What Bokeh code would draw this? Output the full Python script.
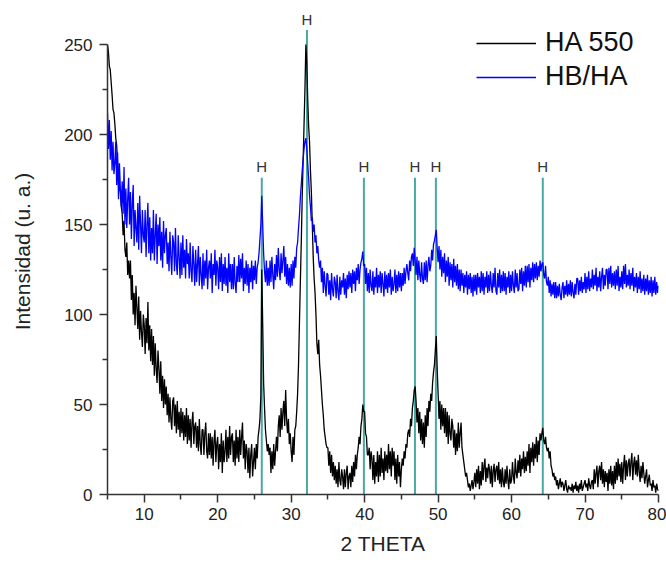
from bokeh.plotting import figure
from bokeh.models import Range1d, Legend, LegendItem, FixedTicker
from bokeh.embed import file_html
from bokeh.resources import INLINE
from bokeh.core.properties import value

# sampling of the scan (2 theta, degrees)
scan_start = 5.0
scan_step = 0.125

# HA 550 intensities: eight readings per degree (one row per degree, 5 .. 79), then 80
ha550 = [
    250, 246, 238, 236, 229, 222, 214, 212,
    206, 198, 194, 184, 178, 170, 168, 160,
    156, 144, 152, 136, 132, 140, 122, 130,
    120, 130, 108, 122, 100, 112, 94, 116,
    104, 92, 110, 86, 102, 90, 82, 100,
    94, 78, 98, 84, 107, 80, 94, 74,
    92, 72, 88, 66, 84, 70, 62, 80,
    70, 56, 74, 52, 66, 48, 64, 50,
    60, 44, 56, 40, 54, 42, 36, 52,
    54, 38, 50, 34, 52, 36, 46, 32,
    48, 34, 46, 30, 44, 32, 48, 28,
    44, 30, 42, 26, 40, 46, 28, 38,
    40, 26, 38, 24, 42, 28, 22, 36,
    36, 22, 34, 40, 24, 20, 34, 22,
    34, 20, 32, 16, 30, 36, 18, 28,
    32, 14, 28, 18, 34, 12, 30, 18,
    24, 36, 18, 32, 20, 38, 22, 32,
    34, 18, 30, 16, 36, 20, 32, 18,
    36, 22, 32, 40, 20, 30, 14, 28,
    24, 12, 26, 9, 22, 28, 10, 18,
    26, 14, 28, 20, 32, 36, 42, 55,
    125, 95, 62, 48, 36, 30, 24, 28,
    22, 26, 12, 24, 14, 28, 16, 24,
    32, 24, 38, 44, 32, 48, 36, 46,
    52, 38, 58, 42, 34, 42, 28, 34,
    24, 18, 32, 22, 36, 38, 46, 56,
    72, 95, 118, 140, 165, 185, 205, 225,
    250, 240, 220, 205, 196, 180, 168, 150,
    132, 120, 112, 100, 84, 78, 86, 72,
    66, 58, 50, 44, 36, 32, 28, 26,
    26, 16, 24, 12, 22, 10, 18, 8,
    16, 6, 14, 4, 18, 8, 5, 14,
    10, 3, 14, 4, 12, 16, 3, 10,
    12, 4, 16, 7, 18, 10, 22, 14,
    22, 26, 32, 28, 38, 42, 50, 46,
    46, 34, 32, 22, 22, 26, 14, 24,
    20, 8, 22, 6, 18, 10, 24, 7,
    22, 10, 26, 12, 20, 8, 24, 13,
    22, 12, 28, 14, 24, 10, 26, 16,
    24, 8, 20, 6, 22, 10, 18, 4,
    14, 20, 16, 24, 20, 28, 26, 34,
    36, 32, 42, 38, 48, 52, 58, 60,
    52, 40, 48, 34, 46, 30, 42, 28,
    40, 26, 44, 32, 48, 38, 52, 46,
    56, 52, 62, 68, 72, 80, 88, 70,
    56, 42, 52, 36, 50, 38, 48, 34,
    48, 32, 46, 28, 44, 34, 30, 42,
    38, 26, 36, 22, 34, 24, 40, 26,
    34, 40, 26, 22, 18, 14, 10, 12,
    8, 4, 6, 2, 5, 8, 3, 7,
    12, 4, 14, 6, 16, 3, 13, 5,
    18, 8, 16, 20, 7, 15, 9, 17,
    14, 6, 16, 4, 13, 17, 7, 14,
    16, 8, 18, 6, 14, 4, 15, 7,
    4, 14, 6, 16, 8, 3, 14, 6,
    8, 18, 10, 6, 20, 12, 9, 19,
    12, 22, 10, 20, 14, 24, 12, 21,
    13, 24, 16, 28, 12, 26, 18, 29,
    16, 28, 20, 32, 18, 30, 22, 34,
    30, 34, 37, 30, 28, 32, 26, 24,
    26, 20, 24, 16, 14, 10, 12, 8,
    10, 5, 8, 3, 6, 9, 4, 7,
    6, 2, 5, 8, 3, 1, 5, 3,
    4, 2, 6, 1, 5, 3, 7, 2,
    5, 1, 6, 3, 8, 2, 4, 6,
    8, 4, 6, 2, 9, 5, 3, 7,
    8, 3, 14, 6, 12, 16, 4, 13,
    16, 8, 18, 6, 14, 4, 13, 7,
    12, 2, 14, 6, 16, 5, 13, 3,
    16, 6, 18, 8, 20, 10, 17, 7,
    18, 6, 16, 22, 8, 19, 10, 17,
    20, 10, 18, 23, 8, 17, 21, 11,
    19, 10, 22, 13, 7, 16, 9, 18,
    12, 6, 10, 14, 4, 8, 11, 5,
    6, 2, 8, 4, 5, 1, 6, 3,
    2,
]

# HB/HA intensities, same sampling
hbha = [
    212, 192, 208, 186, 202, 180, 196, 178,
    184, 196, 172, 190, 164, 184, 170, 160,
    174, 156, 182, 150, 170, 148, 164, 176,
    150, 168, 142, 162, 172, 138, 158, 148,
    140, 162, 136, 166, 150, 134, 158, 144,
    140, 158, 132, 150, 162, 134, 154, 130,
    148, 134, 158, 130, 144, 156, 128, 150,
    138, 154, 130, 146, 126, 152, 134, 144,
    148, 128, 140, 124, 146, 132, 122, 144,
    140, 124, 148, 128, 122, 144, 132, 120,
    140, 122, 144, 126, 136, 120, 142, 128,
    134, 120, 140, 124, 118, 138, 128, 116,
    136, 118, 128, 138, 116, 132, 122, 114,
    134, 116, 130, 120, 136, 114, 126, 130,
    120, 134, 112, 128, 122, 136, 116, 130,
    126, 114, 132, 118, 134, 113, 128, 117,
    132, 116, 126, 112, 134, 118, 128, 114,
    128, 114, 132, 117, 112, 127, 118, 133,
    118, 131, 120, 134, 113, 126, 117, 130,
    116, 128, 112, 126, 118, 130, 114, 127,
    119, 130, 117, 126, 129, 134, 142, 150,
    166, 150, 134, 124, 118, 130, 116, 126,
    116, 130, 118, 132, 122, 114, 128, 119,
    133, 121, 137, 125, 119, 134, 123, 130,
    138, 121, 132, 117, 128, 116, 126, 115,
    128, 116, 130, 120, 132, 126, 137, 140,
    148, 155, 165, 172, 180, 186, 192, 196,
    198, 192, 184, 176, 166, 160, 152, 154,
    146, 150, 140, 144, 134, 138, 130, 126,
    130, 118, 126, 112, 124, 116, 110, 123,
    122, 111, 119, 108, 123, 114, 110, 121,
    118, 109, 122, 113, 108, 121, 111, 119,
    115, 123, 111, 120, 109, 122, 114, 124,
    115, 123, 112, 125, 117, 124, 113, 126,
    119, 128, 117, 125, 129, 131, 135, 127,
    128, 117, 126, 113, 123, 112, 125, 116,
    113, 124, 111, 121, 115, 126, 112, 122,
    115, 124, 112, 123, 117, 110, 124, 114,
    122, 112, 123, 115, 125, 111, 121, 113,
    117, 125, 112, 122, 113, 124, 115, 123,
    113, 123, 116, 126, 117, 124, 128, 123,
    119, 130, 124, 132, 134, 127, 137, 130,
    122, 132, 119, 130, 122, 118, 129, 120,
    117, 129, 119, 130, 118, 127, 132, 124,
    127, 136, 130, 139, 141, 144, 147, 137,
    129, 138, 125, 136, 121, 132, 123, 134,
    118, 130, 121, 132, 116, 129, 119, 128,
    115, 131, 118, 127, 116, 128, 114, 125,
    113, 125, 116, 123, 112, 122, 115, 124,
    111, 122, 114, 123, 112, 121, 110, 122,
    113, 122, 111, 123, 115, 121, 112, 124,
    113, 123, 111, 121, 115, 124, 112, 122,
    113, 124, 116, 112, 123, 115, 126, 113,
    111, 123, 115, 125, 112, 122, 113, 124,
    113, 123, 111, 121, 115, 124, 112, 122,
    113, 124, 116, 112, 125, 115, 123, 113,
    114, 125, 117, 126, 113, 124, 116, 127,
    115, 127, 118, 128, 115, 126, 119, 129,
    118, 128, 120, 129, 119, 127, 121, 130,
    124, 128, 129, 122, 120, 127, 118, 116,
    121, 112, 119, 110, 117, 111, 118, 109,
    118, 109, 116, 110, 117, 111, 108, 115,
    118, 109, 116, 111, 119, 110, 117, 111,
    119, 110, 118, 112, 109, 117, 111, 120,
    120, 111, 119, 113, 121, 112, 118, 114,
    123, 112, 121, 114, 124, 113, 120, 115,
    125, 114, 122, 116, 126, 113, 121, 115,
    124, 113, 121, 126, 114, 122, 116, 125,
    125, 114, 126, 117, 127, 115, 123, 116,
    124, 114, 125, 116, 127, 113, 121, 115,
    124, 114, 127, 117, 128, 115, 122, 116,
    125, 114, 123, 116, 126, 113, 121, 115,
    123, 112, 121, 114, 124, 112, 120, 113,
    122, 111, 120, 113, 122, 111, 119, 112,
    121, 110, 119, 112, 121, 111, 118, 112,
    116,
]

two_theta = [scan_start + scan_step * i for i in range(len(ha550))]

# hydroxyapatite reference reflections
peak_positions = [26.0, 32.15, 39.9, 46.85, 49.7, 64.25]
peak_tops = [176, 258, 176, 176, 176, 176]
peak_labels = ["H", "H", "H", "H", "H", "H"]

x_ticks = [10, 20, 30, 40, 50, 60, 70, 80]
x_minor = [5, 15, 25, 35, 45, 55, 65, 75]
y_ticks = [0, 50, 100, 150, 200, 250]
y_minor = [25, 75, 125, 175, 225]

FONT = "Liberation Sans"
TEAL = "#48a9a4"

p = figure(width=666, height=562, x_range=Range1d(5, 80), y_range=Range1d(0, 270),
           output_backend="svg", toolbar_location=None,
           min_border_left=107, min_border_right=8, min_border_top=8, min_border_bottom=68)
p.grid.visible = False
p.outline_line_color = None
p.background_fill_color = "white"

p.segment(x0=peak_positions, y0=[0] * len(peak_positions), x1=peak_positions, y1=peak_tops,
          line_color=TEAL, line_width=2)
label_y = [t + 6 for t in peak_tops]
p.text(x=peak_positions, y=label_y, text=peak_labels, text_align="center",
       text_baseline="alphabetic", text_font=value(FONT), text_font_size="15px",
       text_color="#333333")

r_black = p.line(two_theta, ha550, line_color="#000000", line_width=1.3)
r_blue = p.line(two_theta, hbha, line_color="#0000ff", line_width=1.3)

for ax, ticks, minor, bounds in ((p.xaxis[0], x_ticks, x_minor, (5, 80)),
                                 (p.yaxis[0], y_ticks, y_minor, (0, 250))):
    ax.ticker = FixedTicker(ticks=ticks, minor_ticks=minor)
    ax.bounds = bounds
    ax.axis_line_color = "#333333"
    ax.axis_line_width = 1.5
    ax.major_tick_line_color = "#333333"
    ax.major_tick_line_width = 1.5
    ax.minor_tick_line_color = "#333333"
    ax.minor_tick_line_width = 1.5
    ax.major_tick_in = 0
    ax.major_tick_out = 8
    ax.minor_tick_in = 0
    ax.minor_tick_out = 5
    ax.major_label_text_font = FONT
    ax.major_label_text_font_size = "17px"
    ax.major_label_text_color = "#222222"
    ax.axis_label_text_font = FONT
    ax.axis_label_text_font_size = "21px"
    ax.axis_label_text_font_style = "normal"
    ax.axis_label_text_color = "#222222"

p.xaxis.axis_label = "2 THETA"
p.xaxis.major_label_standoff = 5
p.xaxis.axis_label_standoff = 9
p.yaxis.axis_label = "Intensidad (u. a.)"
p.yaxis.major_label_standoff = 7
p.yaxis.axis_label_standoff = 27

legend = Legend(items=[LegendItem(label="HA 550", renderers=[r_black]),
                       LegendItem(label="HB/HA", renderers=[r_blue])],
                location=(369, 402), label_text_font=FONT, label_text_font_size="27px",
                label_text_color="#111111", glyph_width=60, glyph_height=20,
                label_standoff=9, spacing=3, padding=0, margin=0,
                border_line_color=None, background_fill_alpha=0)
p.add_layout(legend)

open("out.html", "w").write(file_html(p, INLINE))
